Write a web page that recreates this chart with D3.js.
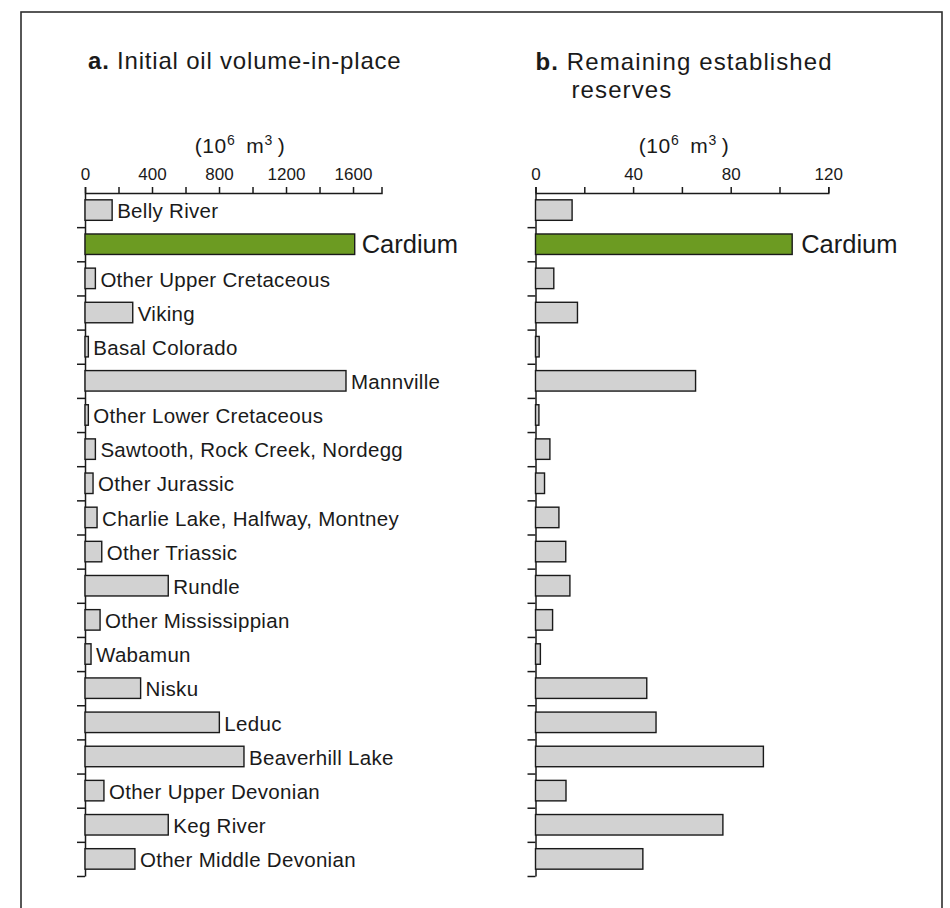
<!DOCTYPE html>
<html>
<head>
<meta charset="utf-8">
<script src="https://cdn.jsdelivr.net/npm/d3@7"></script>
<style>
  html, body { margin: 0; padding: 0; background: #ffffff; }
  svg { display: block; }
  text { font-family: "Liberation Sans", Arial, Helvetica, sans-serif; fill: #1a1a1a; }
</style>
</head>
<body>
<svg id="chart" width="950" height="908"></svg>
<script>
// Oil pools by stratigraphic unit, youngest at top
const units = [
  "Belly River", "Cardium", "Other Upper Cretaceous", "Viking", "Basal Colorado",
  "Mannville", "Other Lower Cretaceous", "Sawtooth, Rock Creek, Nordegg",
  "Other Jurassic", "Charlie Lake, Halfway, Montney", "Other Triassic", "Rundle",
  "Other Mississippian", "Wabamun", "Nisku", "Leduc", "Beaverhill Lake",
  "Other Upper Devonian", "Keg River", "Other Middle Devonian"
];
// a. Initial oil volume-in-place (10^6 m3)
const initialVolume = [
  162, 1610, 62, 285, 20, 1558, 20, 62, 48, 72, 100, 497, 90, 36, 332, 802, 949, 113, 497, 298
];
// b. Remaining established reserves (10^6 m3)
const remainingReserves = [
  15.0, 105.2, 7.5, 17.2, 1.5, 65.6, 1.4, 5.9, 3.7, 9.6, 12.4, 14.1, 7.0, 2.0, 45.6, 49.4, 93.4, 12.5, 76.8, 44.0
];
const highlight = "Cardium";
const ticksA = [0, 200, 400, 600, 800, 1000, 1200, 1400, 1600];
const labeledTicksA = [0, 400, 800, 1200, 1600];
const ticksB = [0, 20, 40, 60, 80, 100, 120];
const labeledTicksB = [0, 40, 80, 120];

const svg = d3.select("#chart");

// outer frame (open at the bottom edge of the page)
svg.append("rect")
  .attr("x", 21).attr("y", 12).attr("width", 921).attr("height", 930)
  .attr("fill", "none").attr("stroke", "#2e2e2e").attr("stroke-width", 1.6);

const plotTop = 193, plotBottom = 876;
const y = d3.scaleBand().domain(units).range([plotTop, plotBottom]).paddingInner(0.4).paddingOuter(0.2);
const yIndex = d3.scaleLinear().domain([0, units.length]).range([plotTop, plotBottom]);

const xA = d3.scaleLinear().domain([0, 1770]).range([85, 381.5]);
const xB = d3.scaleLinear().domain([0, 120]).range([535.5, 828.3]);

function panel(x, values, ticks, labeled, labelAll, labelGap) {
  const g = svg.append("g");

  // category boundary ticks along the vertical axis
  const yAxis = d3.axisLeft(yIndex)
    .tickValues(d3.range(1, units.length + 1))
    .tickFormat("")
    .tickSize(8)
    .tickSizeOuter(0);
  g.append("g").attr("transform", `translate(${x(0)},0)`).call(yAxis)
    .call(s => s.selectAll("line,path").attr("stroke", "#1a1a1a").attr("stroke-width", 1.5));

  const xAxis = d3.axisTop(x)
    .tickValues(ticks)
    .tickFormat(d => labeled.includes(d) ? d : "")
    .tickSize(6)
    .tickSizeOuter(6)
    .tickPadding(7);
  g.append("g").attr("transform", `translate(0,${plotTop})`).call(xAxis)
    .call(s => s.selectAll("line,path").attr("stroke", "#1a1a1a").attr("stroke-width", 1.5))
    .call(s => s.selectAll("text").attr("font-size", 17).attr("fill", "#1a1a1a")
      .style("font-family", "'Liberation Sans', Arial, sans-serif"));

  g.selectAll("rect.bar").data(units).join("rect")
    .attr("class", "bar")
    .attr("x", x(0))
    .attr("y", d => y(d))
    .attr("width", (d, i) => x(values[i]) - x(0))
    .attr("height", y.bandwidth())
    .attr("fill", d => d === highlight ? "#6c9b22" : "#d2d2d2")
    .attr("stroke", "#1a1a1a")
    .attr("stroke-width", 1.4);

  g.selectAll("text.lbl").data(units.filter(d => labelAll || d === highlight)).join("text")
    .attr("class", "lbl")
    .attr("x", d => x(values[units.indexOf(d)]) + (d === highlight ? labelGap + 2 : labelGap))
    .attr("y", d => y(d) + y.bandwidth() / 2)
    .attr("dy", d => d === highlight ? "0.36em" : "0.4em")
    .attr("font-size", d => d === highlight ? 25.5 : 20.5)
    .attr("letter-spacing", d => d === highlight ? 0 : 0.3)
    .text(d => d);
}

panel(xA, initialVolume, ticksA, labeledTicksA, true, 5);
panel(xB, remainingReserves, ticksB, labeledTicksB, false, 7);

// panel titles
const tA = svg.append("text").attr("x", 88).attr("y", 69).attr("font-size", 24).attr("letter-spacing", 0.8);
tA.append("tspan").attr("font-weight", "bold").text("a.");
tA.append("tspan").text(" Initial oil volume-in-place");

const tB = svg.append("text").attr("x", 535.5).attr("y", 70).attr("font-size", 24).attr("letter-spacing", 1.1);
tB.append("tspan").attr("font-weight", "bold").text("b.");
tB.append("tspan").text(" Remaining established");
svg.append("text").attr("x", 571.5).attr("y", 98).attr("font-size", 24).attr("letter-spacing", 1.1).text("reserves");

// unit labels above each axis
function unitLabel(cx) {
  const t = svg.append("text").attr("x", cx).attr("y", 153).attr("text-anchor", "middle")
    .attr("font-size", 21).attr("letter-spacing", 0.6);
  t.append("tspan").text("(10");
  t.append("tspan").attr("font-size", 14).attr("dy", -8).text("6");
  t.append("tspan").attr("dy", 8).text("\u2002m");
  t.append("tspan").attr("font-size", 14).attr("dy", -8).text("3");
  t.append("tspan").attr("dy", 8).text("\u2009)");
}
unitLabel(240);
unitLabel(684);
</script>
</body>
</html>
